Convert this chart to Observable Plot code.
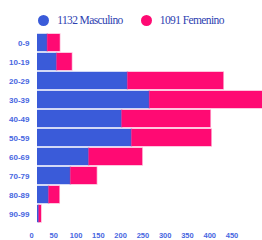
<!DOCTYPE html>
<html>
<head>
<meta charset="utf-8">
<script src="https://cdn.jsdelivr.net/npm/d3@7"></script>
<script src="https://cdn.jsdelivr.net/npm/@observablehq/plot@0.6"></script>
<style>
  html, body { margin: 0; padding: 0; background: #fff; width: 262px; height: 240px; overflow: hidden; }
  #legend { height: 28px; box-sizing: border-box; padding-top: 12px; display: flex; justify-content: center; align-items: center;
    font-family: "Liberation Serif", "DejaVu Serif", serif; font-size: 11.5px; letter-spacing: -0.6px; color: #2c40b0; line-height: 16px; }
  .item { display: flex; align-items: center; margin: 0 9px; }
  .dot { width: 11px; height: 11px; border-radius: 50%; margin-right: 8px; }
</style>
</head>
<body>
<div id="legend"></div>
<div id="chart"></div>
<script>
const ages = ["0-9", "10-19", "20-29", "30-39", "40-49", "50-59", "60-69", "70-79", "80-89", "90-99"];
const masculino = [23, 44, 203, 252, 190, 212, 116, 75, 26, 4];
const femenino = [28, 34, 215, 265, 199, 179, 120, 59, 24, 5];
const sexes = ["Masculino", "Femenino"];
const totals = [1132, 1091];
const xTicks = [0, 50, 100, 150, 200, 250, 300, 350, 400, 450];
const colors = ["#3a5bd9", "#ff0a73"];

const data = ages.flatMap((a, i) => [
  {age: a, sex: sexes[0], n: masculino[i]},
  {age: a, sex: sexes[1], n: femenino[i]}
]);

const legend = document.getElementById("legend");
sexes.forEach((s, i) => {
  const it = document.createElement("div");
  it.className = "item";
  const d = document.createElement("span");
  d.className = "dot";
  d.style.background = colors[i];
  const t = document.createElement("span");
  t.textContent = totals[i] + " " + s;
  it.appendChild(d); it.appendChild(t);
  legend.appendChild(it);
});

const chart = Plot.plot({
  width: 262,
  height: 212,
  marginTop: 0,
  marginBottom: 12,
  marginLeft: 37,
  marginRight: 0,
  style: {fontFamily: "Liberation Sans, Arial, sans-serif", fontSize: "8px", fontWeight: "bold", color: "#4766df", background: "#fff"},
  x: {domain: [0, 505]},
  y: {domain: ages, padding: 0.1},
  color: {domain: sexes, range: colors},
  marks: [
    Plot.barX(data, Plot.stackX({x: "n", y: "age", fill: "sex", order: sexes, clip: true, stroke: "sex", strokeOpacity: 0.3, strokeWidth: 1.5})),
    Plot.axisX({ticks: xTicks, tickSize: 0, tickPadding: 4, dx: -6, fontSize: 7.5, label: null}),
    Plot.axisY({tickSize: 0, tickPadding: 8, label: null})
  ]
});
document.getElementById("chart").appendChild(chart);
</script>
</body>
</html>
